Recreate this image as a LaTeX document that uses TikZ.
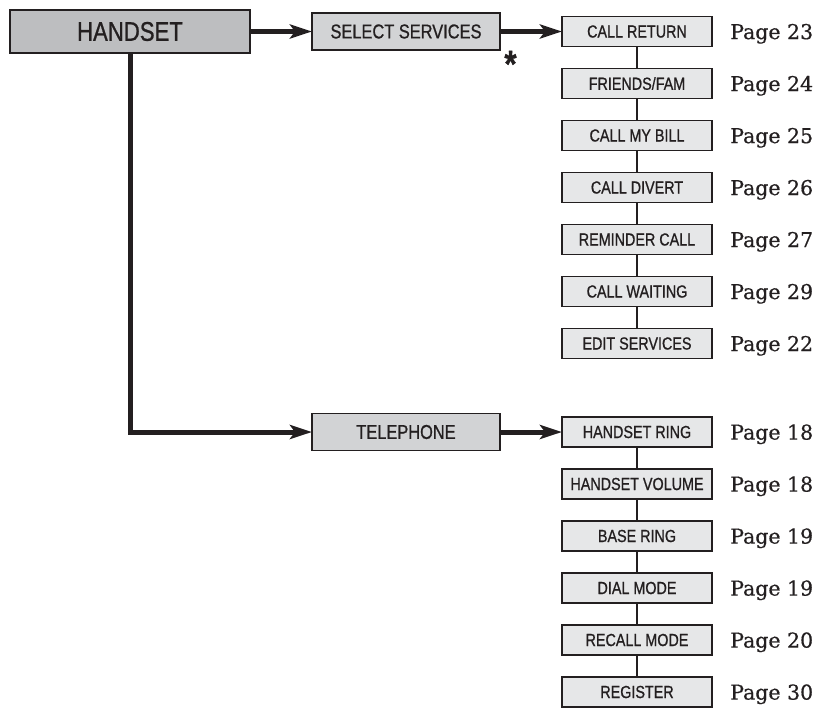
\documentclass[tikz,border=0pt]{standalone}
\usepackage{fontspec}
\setmainfont{DejaVu Serif}
\newfontfamily\pagefont[FakeBold=0.6]{DejaVu Serif}
\newfontfamily\narrowsf[FakeStretch=0.82, FakeBold=0.8]{Liberation Sans}
\usetikzlibrary{arrows.meta, positioning}
\definecolor{ink}{RGB}{35,31,32}
\definecolor{darkfill}{RGB}{189,190,192}
\definecolor{midfill}{RGB}{210,211,213}
\definecolor{lightfill}{RGB}{230,231,232}

\begin{document}
\begin{tikzpicture}[
  x=1pt, y=-1pt,
  box/.style={draw=ink, line width=1.4pt, inner sep=0pt, outer sep=0pt, text=ink},
  topbox/.style={box, fill=darkfill, minimum width=240pt, minimum height=43pt, font=\narrowsf\fontsize{27}{30}\selectfont},
  menubox/.style={box, fill=midfill, minimum width=188pt, minimum height=37pt, font=\narrowsf\fontsize{20}{24}\selectfont},
  itembox/.style={box, fill=lightfill, minimum width=150pt, minimum height=30pt, font=\narrowsf\fontsize{17.5}{20}\selectfont},
  pagelbl/.style={inner sep=0pt, text depth=0pt, text=ink, font=\pagefont\fontsize{20.5}{24}\selectfont},
  arr/.style={-{Stealth[length=22pt, width=14pt, inset=5pt]}, line width=5pt, draw=ink},
  link/.style={line width=2.5pt, draw=ink}
]
  \useasboundingbox (0,0) rectangle (816,712);

  \node[topbox] (handset) at (130,31.5) {HANDSET};
  \node[menubox] (selsvc) at (406,31.5) {SELECT SERVICES};
  \node[menubox] (phone) at (406,432) {TELEPHONE};
  \node[inner sep=0pt, anchor=base, text=ink, font=\narrowsf\bfseries\fontsize{38}{38}\selectfont] (star) at (510.5,77) {*};

  % select services branch
  \node[itembox] (callret) at (637,31.5) {CALL RETURN};
  \node[itembox, below=22pt of callret] (friends) {FRIENDS/FAM};
  \node[itembox, below=22pt of friends] (mybill) {CALL MY BILL};
  \node[itembox, below=22pt of mybill] (divert) {CALL DIVERT};
  \node[itembox, below=22pt of divert] (remind) {REMINDER CALL};
  \node[itembox, below=22pt of remind] (waiting) {CALL WAITING};
  \node[itembox, below=22pt of waiting] (editsvc) {EDIT SERVICES};

  % telephone branch
  \node[itembox] (hsring) at (637,432) {HANDSET RING};
  \node[itembox, below=22pt of hsring] (hsvol) {HANDSET VOLUME};
  \node[itembox, below=22pt of hsvol] (basering) {BASE RING};
  \node[itembox, below=22pt of basering] (dialmode) {DIAL MODE};
  \node[itembox, below=22pt of dialmode] (recall) {RECALL MODE};
  \node[itembox, below=22pt of recall] (register) {REGISTER};

  % page references
  \node[pagelbl, right=18pt of callret] (callretpg) {Page 23};
  \node[pagelbl, right=18pt of friends] (friendspg) {Page 24};
  \node[pagelbl, right=18pt of mybill] (mybillpg) {Page 25};
  \node[pagelbl, right=18pt of divert] (divertpg) {Page 26};
  \node[pagelbl, right=18pt of remind] (remindpg) {Page 27};
  \node[pagelbl, right=18pt of waiting] (waitingpg) {Page 29};
  \node[pagelbl, right=18pt of editsvc] (editsvcpg) {Page 22};
  \node[pagelbl, right=18pt of hsring] (hsringpg) {Page 18};
  \node[pagelbl, right=18pt of hsvol] (hsvolpg) {Page 18};
  \node[pagelbl, right=18pt of basering] (baseringpg) {Page 19};
  \node[pagelbl, right=18pt of dialmode] (dialmodepg) {Page 19};
  \node[pagelbl, right=18pt of recall] (recallpg) {Page 20};
  \node[pagelbl, right=18pt of register] (registerpg) {Page 30};

  \draw[arr] (handset) -- (selsvc);
  \draw[arr] (handset) |- (phone);
  \draw[arr] (selsvc) -- (callret);
  \draw[arr] (phone) -- (hsring);

  \draw[link] (callret) -- (friends);
  \draw[link] (friends) -- (mybill);
  \draw[link] (mybill) -- (divert);
  \draw[link] (divert) -- (remind);
  \draw[link] (remind) -- (waiting);
  \draw[link] (waiting) -- (editsvc);
  \draw[link] (hsring) -- (hsvol);
  \draw[link] (hsvol) -- (basering);
  \draw[link] (basering) -- (dialmode);
  \draw[link] (dialmode) -- (recall);
  \draw[link] (recall) -- (register);
\end{tikzpicture}
\end{document}
